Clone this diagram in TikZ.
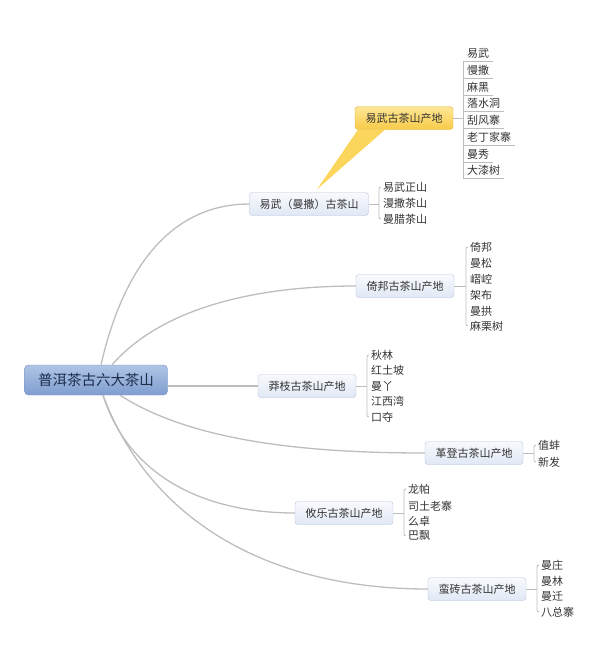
\documentclass[tikz,border=0pt]{standalone}
\usepackage{fontspec}
\setmainfont{Noto Sans CJK SC}
\usetikzlibrary{backgrounds}

\definecolor{lnc}{HTML}{BDBDBD}
\definecolor{txt}{HTML}{333333}
\definecolor{boxln}{HTML}{B3C3DD}
\definecolor{boxtop}{HTML}{F7F9FD}
\definecolor{boxbot}{HTML}{E0E8F5}
\definecolor{rootln}{HTML}{7390C2}
\definecolor{roottop}{HTML}{AFC5E6}
\definecolor{rootbot}{HTML}{7F9DCF}
\definecolor{roottxt}{HTML}{1E2D4C}
\definecolor{yelln}{HTML}{E3B53C}
\definecolor{yeltop}{HTML}{FEE796}
\definecolor{yelbot}{HTML}{F8CB48}
\definecolor{wedge}{HTML}{FBD65C}

\begin{document}
\begin{tikzpicture}[x=1pt,y=-1pt,
  root/.style={draw=rootln,rounded corners=4,top color=roottop,bottom color=rootbot,
    minimum width=143,minimum height=30,text=roottxt,font=\fontsize{14.5}{16}\selectfont},
  topic/.style={draw=boxln,rounded corners=3,top color=boxtop,bottom color=boxbot,
    minimum width=98,minimum height=23,inner xsep=10,text=txt,font=\fontsize{11}{13}\selectfont},
  note/.style={topic,draw=yelln,top color=yeltop,bottom color=yelbot},
  item/.style={anchor=west,inner xsep=2,inner ysep=0,minimum height=16,text=txt,
    font=\fontsize{11}{13}\selectfont},
  uitem/.style={item,inner xsep=4,minimum height=16.7,
    append after command={(\tikzlastnode.south west) edge[lst] (\tikzlastnode.south east)}},
  conn/.style={draw=lnc,line width=1.3},
  lst/.style={draw=lnc,line width=0.8}]
\useasboundingbox (0,0) rectangle (600,665);

% main topics
\node[root] (r) at (96,380) {普洱茶古六大茶山};
\node[topic] (ym) at (309,204) {易武（曼撒）古茶山};
\node[note] (yw) at (404,118) {易武古茶山产地};
\node[topic] (yb) at (405,286) {倚邦古茶山产地};
\node[topic] (mg) at (307,386) {莽枝古茶山产地};
\node[topic] (gd) at (474,453) {革登古茶山产地};
\node[topic] (yl) at (344,513) {攸乐古茶山产地};
\node[topic] (mz) at (477,589) {蛮砖古茶山产地};

% callout
\begin{scope}[on background layer]
\fill[wedge] ([xshift=-46]yw.south) -- ([xshift=-19]yw.south) -- ([shift={(8,-3)}]ym.north) -- cycle;
\end{scope}

% connectors from the root
\draw[conn] ([xshift=5]r.north) .. controls +(24,-105) and +(-73,0) .. (ym.west);
\draw[conn] ([xshift=16]r.north) .. controls +(48,-55) and +(-105,0) .. (yb.west);
\draw[conn] (r.east |- mg.west) -- (mg.west);
\draw[conn] ([xshift=24]r.south) .. controls +(70,45) and +(-124,0) .. (gd.west);
\draw[conn] ([xshift=7]r.south) .. controls +(27,85) and +(-85,0) .. (yl.west);
\draw[conn] ([xshift=7]r.south) .. controls +(47,125) and +(-160,0) .. (mz.west);

% 易武古茶山产地
\node[uitem] (a1) at (463,53) {易武};
\node[uitem] (a2) at (463,70) {慢撒};
\node[uitem] (a3) at (463,87) {麻黑};
\node[uitem] (a4) at (463,103) {落水洞};
\node[uitem] (a5) at (463,120) {刮风寨};
\node[uitem] (a6) at (463,137) {老丁家寨};
\node[uitem] (a7) at (463,154) {曼秀};
\node[uitem] (a8) at (463,170) {大漆树};
\draw[lst] (a1.south west) -- (a8.south west);
\draw[lst] (yw.east) -- (yw.east -| a1.west);

% 易武（曼撒）古茶山
\node[item] (b1) at (381,187) {易武正山};
\node[item] (b2) at (381,203) {漫撒茶山};
\node[item] (b3) at (381,219) {曼腊茶山};
\coordinate (bk) at ([xshift=-2]b1.west);
\draw[lst] (ym.east) -- (ym.east -| bk);
\draw[lst,rounded corners=2] (b1.west) -- (bk) |- (b3.west);

% 倚邦古茶山产地
\node[item] (c1) at (468,247) {倚邦};
\node[item] (c2) at (468,263) {曼松};
\node[item] (c3) at (468,279) {嶍崆};
\node[item] (c4) at (468,295) {架布};
\node[item] (c5) at (468,311) {曼拱};
\node[item] (c6) at (468,326) {麻栗树};
\coordinate (ck) at ([xshift=-2]c1.west);
\draw[lst] (yb.east) -- (yb.east -| ck);
\draw[lst,rounded corners=2] (c1.west) -- (ck) |- (c6.west);

% 莽枝古茶山产地
\node[item] (d1) at (369,355) {秋林};
\node[item] (d2) at (369,370) {红土坡};
\node[item] (d3) at (369,386) {曼丫};
\node[item] (d4) at (369,401) {江西湾};
\node[item] (d5) at (369,417) {口夺};
\coordinate (dk) at ([xshift=-2]d1.west);
\draw[lst] (mg.east) -- (mg.east -| dk);
\draw[lst,rounded corners=2] (d1.west) -- (dk) |- (d5.west);

% 革登古茶山产地
\node[item] (e1) at (536,445) {值蚌};
\node[item] (e2) at (536,462) {新发};
\coordinate (ek) at ([xshift=-2]e1.west);
\draw[lst] (gd.east) -- (gd.east -| ek);
\draw[lst,rounded corners=2] (e1.west) -- (ek) |- (e2.west);

% 攸乐古茶山产地
\node[item] (f1) at (406,489) {龙帕};
\node[item] (f2) at (406,506) {司土老寨};
\node[item] (f3) at (406,521) {么卓};
\node[item] (f4) at (406,536) {巴飘};
\coordinate (fk) at ([xshift=-2]f1.west);
\draw[lst] (yl.east) -- (yl.east -| fk);
\draw[lst,rounded corners=2] (f1.west) -- (fk) |- (f4.west);

% 蛮砖古茶山产地
\node[item] (g1) at (539,565) {曼庄};
\node[item] (g2) at (539,581) {曼林};
\node[item] (g3) at (539,596) {曼迁};
\node[item] (g4) at (539,612) {八总寨};
\coordinate (gk) at ([xshift=-2]g1.west);
\draw[lst] (mz.east) -- (mz.east -| gk);
\draw[lst,rounded corners=2] (g1.west) -- (gk) |- (g4.west);
\end{tikzpicture}
\end{document}
